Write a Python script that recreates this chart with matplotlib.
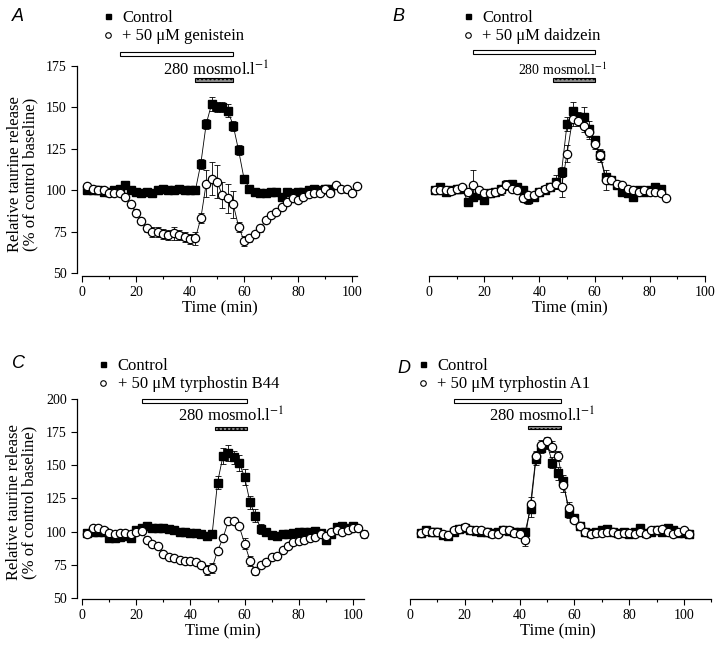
import numpy as np
import matplotlib.pyplot as plt
from matplotlib.patches import Rectangle
from matplotlib.lines import Line2D
from matplotlib.ticker import MultipleLocator

plt.rcParams['font.family'] = 'serif'
plt.rcParams['font.serif'] = ['Liberation Serif', 'DejaVu Serif']
plt.rcParams['mathtext.fontset'] = 'stix'

# ---- panel A: genistein ----
t_ctrl_a = np.arange(2, 93, 2)
ctrl_a = [100, 100, 100, 99, 99, 100, 101, 103, 100, 99, 98, 99, 98, 100, 101, 100, 100, 101, 100, 100,
          100, 116, 140, 152, 150, 150, 148, 139, 124, 107, 101, 99, 98, 98, 99, 99, 96, 99, 98, 99,
          99, 100, 101, 100, 101, 101]
ctrl_a_err = [1, 1, 1, 1, 1, 1, 1, 2, 1, 1, 1, 1, 1, 1, 1, 1, 1, 1, 1, 1,
              1, 3, 3, 4, 3, 3, 4, 3, 3, 2, 1, 1, 1, 1, 1, 1, 2, 1, 1, 1,
              1, 1, 1, 1, 1, 1]
t_drug_a = np.arange(2, 103, 2)
drug_a = [102.5, 101, 100, 100, 98, 98, 98, 96, 91.5, 86.5, 81.5, 77, 75, 74.5, 73.5, 73, 74, 73, 72, 70.5,
          71, 83, 104, 107, 105, 97, 95, 91.5, 78, 69.5, 71, 73.5, 77, 82, 85, 87, 90, 93, 95.5, 94,
          96, 97.5, 98, 98.5, 100.5, 98.5, 103, 101, 100.5, 98.5, 102.5]
drug_a_err = [1, 1, 1, 1, 1, 1, 1, 1, 2, 2, 2, 2, 3, 3, 3, 3, 4, 3, 3, 3,
              4, 3, 8, 10, 10, 8, 9, 8, 3, 3, 2, 2, 2, 1, 1, 1, 1, 1, 1, 1,
              1, 1, 1, 1, 1, 2, 1, 1, 2, 2, 1]

# ---- panel B: daidzein ----
t_ctrl_b = np.arange(2, 85, 2)
ctrl_b = [100, 102, 99, 100, 101, 101, 93, 96, 97, 94, 98, 99, 101, 103, 104, 102, 100, 94.5, 96, 99,
          100, 102, 105, 111, 140, 148, 144, 144, 137, 130, 121, 108, 106, 103, 99, 98, 96, 100, 99, 100,
          102, 101]
ctrl_b_err = [1, 1, 1, 1, 1, 2, 2, 2, 1, 2, 1, 1, 1, 3, 1, 1, 1, 3, 1, 1,
              1, 2, 4, 3, 4, 5, 3, 6, 5, 3, 4, 2, 2, 1, 1, 2, 1, 1, 1, 1,
              1, 1]
t_drug_b = np.arange(2, 87, 2)
drug_b = [100, 100, 100, 99.5, 101, 102, 99, 103, 100, 98, 98, 99, 100, 103, 101, 100, 95, 97, 97, 99,
          101, 102, 104, 102, 122, 143, 142, 139, 135, 128, 121, 106, 106, 104, 103, 101, 100, 99, 100, 99,
          99, 98, 95]
drug_b_err = [1, 1, 1, 1, 1, 2, 1, 9, 2, 1, 1, 1, 3, 2, 1, 1, 2, 1, 1, 1,
              1, 2, 3, 6, 5, 4, 3, 4, 4, 3, 3, 6, 2, 1, 1, 1, 1, 1, 1, 1,
              1, 1, 1]

# ---- panel C: tyrphostin B44 ----
t_ctrl_c = np.arange(2, 101, 2)
ctrl_c = [99, 100, 100, 100, 95, 95, 96, 97, 95, 101, 103, 104.5, 103, 103, 102.5, 102, 101, 100, 99.5, 99,
          99, 98, 97, 98, 137, 157, 159, 156, 152, 141, 122, 112, 102, 100, 97.5, 96.5, 98.5, 98, 99, 100,
          99.5, 100, 100.5, 99, 94, 98, 103.5, 104.5, 103, 104.5]
ctrl_c_err = [1, 1, 1, 1, 2, 2, 2, 2, 3, 2, 2, 1, 1, 1, 1, 1, 1, 1, 1, 1,
              1, 1, 1, 1, 5, 6, 6, 5, 6, 6, 5, 5, 4, 2, 1, 1, 1, 1, 1, 1,
              1, 1, 1, 1, 3, 2, 1, 1, 1, 1]
t_drug_c = np.arange(2, 105, 2)
drug_c = [98, 102.5, 103, 101.5, 99, 98.5, 99, 99, 98.5, 100, 100.5, 94, 91, 89, 83.5, 81, 80, 78.5, 78, 78,
          77, 75, 71, 72.5, 85.5, 95, 108, 108, 104, 91, 78, 70, 75, 77, 80.5, 82, 86.5, 89, 92.5, 93,
          94, 95, 96, 98, 97, 99.5, 101, 99.5, 101, 103, 103, 98]
drug_c_err = [1, 1, 1, 1, 1, 1, 1, 1, 1, 1, 1, 1, 1, 1, 1, 1, 1, 1, 1, 1,
              1, 2, 4, 4, 2, 2, 1, 1, 2, 4, 4, 3, 2, 1, 1, 1, 1, 1, 1, 1,
              1, 1, 1, 1, 1, 1, 1, 1, 1, 1, 1, 3]

# ---- panel D: tyrphostin A1 ----
t_ctrl_d = np.arange(4, 103, 2)
ctrl_d = [99, 101, 100, 100, 97.5, 97, 100, 102, 102.5, 101, 100.5, 100, 100, 99, 100, 101.5, 100.5, 100, 100, 100,
          117, 155, 163, 166, 152, 144, 138, 114, 110, 104, 100, 99, 100, 101, 102, 100, 99, 100, 98, 100,
          103, 99, 100, 101, 100, 103, 101, 99, 99, 98]
ctrl_d_err = [1, 1, 1, 1, 1, 1, 1, 1, 1, 1, 1, 1, 1, 1, 1, 1, 1, 1, 1, 2,
              6, 5, 4, 4, 4, 5, 5, 4, 3, 2, 1, 1, 1, 1, 1, 1, 1, 1, 1, 1,
              1, 1, 1, 1, 1, 1, 1, 1, 1, 1]
t_drug_d = np.arange(4, 103, 2)
drug_d = [99, 100.5, 100, 100, 98, 97.5, 101, 102, 103.5, 101.5, 101, 101, 100, 98.5, 98.5, 101, 101, 99, 98, 94,
          121, 157, 165, 168, 164, 157, 135, 118, 109, 104, 100, 98, 99, 99, 100, 100, 98, 99, 99, 98,
          100, 98, 101, 101, 102, 100, 98, 100, 101, 98]
drug_d_err = [1, 1, 1, 1, 1, 1, 1, 1, 1, 1, 1, 1, 1, 1, 1, 1, 1, 1, 1, 5,
              5, 4, 4, 3, 4, 4, 5, 4, 2, 1, 1, 1, 1, 1, 1, 1, 1, 1, 1, 1,
              1, 1, 1, 1, 1, 1, 1, 1, 1, 1]

drug_labels = ['+ 50 \u03bcM genistein', '+ 50 \u03bcM daidzein',
               '+ 50 \u03bcM tyrphostin B44', '+ 50 \u03bcM tyrphostin A1']
drug_periods = [(14, 56), (16, 60), (22, 61), (16, 55)]
hypo_periods = [(42, 56), (45, 60), (49, 61), (43, 55)]
hypo_label = '280 mosmol.l$^{-1}$'

W, H = 720, 648
fig = plt.figure(figsize=(7.2, 6.48), dpi=100)


def make_axes(rect, xlim, ylim, xb, yb, show_y):
    ax = fig.add_axes(rect)
    ax.set_xlim(*xlim)
    ax.set_ylim(*ylim)
    for s in ['top', 'right']:
        ax.spines[s].set_visible(False)
    ax.spines['bottom'].set_bounds(*xb)
    ax.xaxis.set_major_locator(MultipleLocator(20))
    ax.xaxis.set_minor_locator(MultipleLocator(10))
    ax.tick_params(axis='both', which='major', direction='out', length=4, width=0.8, labelsize=10, pad=3)
    ax.tick_params(axis='x', which='minor', direction='out', length=2, width=0.8)
    if show_y:
        ax.spines['left'].set_bounds(*yb)
        ax.yaxis.set_major_locator(MultipleLocator(25))
        ax.set_ylabel('Relative taurine release\n(% of control baseline)', fontsize=12, linespacing=0.9)
        ax.yaxis.set_label_coords(-0.135, 0.48)
    else:
        ax.spines['left'].set_visible(False)
        ax.set_yticks([])
    ax.set_xlabel('Time (min)', fontsize=12, labelpad=1)
    for s in ax.spines.values():
        s.set_linewidth(0.9)
    return ax


def draw(ax, t, v, err, filled):
    ax.errorbar(t, v, yerr=err, fmt='-', color='k', lw=0.6, elinewidth=0.6,
                capsize=2.5, capthick=0.6, zorder=2)
    if filled:
        ax.plot(t, v, ls='none', marker='s', ms=5.5, mfc='k', mec='k', zorder=3)
    else:
        ax.plot(t, v, ls='none', marker='o', ms=6, mfc='w', mec='k', mew=0.9, zorder=4)


def key(ax, label, x_px, y_px):
    handles = [Line2D([], [], ls='none', marker='s', ms=3.6, mfc='k', mec='k'),
               Line2D([], [], ls='none', marker='o', ms=4.0, mfc='w', mec='k', mew=0.8)]
    ax.legend(handles, ['Control', label], loc='upper left',
              bbox_to_anchor=(x_px / W, 1 - y_px / H), bbox_transform=fig.transFigure,
              frameon=False, borderpad=0, borderaxespad=0, handlelength=1.0,
              handletextpad=0.35, labelspacing=0.15, fontsize=12)


def bars(ax, drug, hypo, y_open, y_hypo, y_text, text_x, fs):
    tr = ax.get_xaxis_transform()
    ax.add_patch(Rectangle((drug[0], y_open), drug[1] - drug[0], 0.019, transform=tr,
                           fc='w', ec='k', lw=0.8, clip_on=False))
    ax.add_patch(Rectangle((hypo[0], y_hypo), hypo[1] - hypo[0], 0.017, transform=tr,
                           fc='0.55', ec='k', lw=0.8, hatch='....', clip_on=False))
    ax.text(text_x, y_text, hypo_label, transform=tr, ha='center', va='center', fontsize=fs)


ax_a = make_axes([0.1064, 0.5736, 0.3975, 0.3272], (-2, 104), (48, 176), (0, 102), (50, 175), True)
draw(ax_a, t_ctrl_a, ctrl_a, ctrl_a_err, True)
draw(ax_a, t_drug_a, drug_a, drug_a_err, False)
key(ax_a, drug_labels[0], 100, 10)
bars(ax_a, drug_periods[0], hypo_periods[0], 1.039, 0.9165, 0.973, 49.6, 12)

ax_b = make_axes([0.5882, 0.5736, 0.4064, 0.3272], (-2, 104), (48, 176), (0, 100), None, False)
draw(ax_b, t_ctrl_b, ctrl_b, ctrl_b_err, True)
draw(ax_b, t_drug_b, drug_b, drug_b_err, False)
key(ax_b, drug_labels[1], 460, 10)
bars(ax_b, drug_periods[1], hypo_periods[1], 1.049, 0.9165, 0.973, 48.5, 10)

ax_c = make_axes([0.1064, 0.0752, 0.4065, 0.3111], (-2, 106), (49, 201), (0, 104), (50, 200), True)
draw(ax_c, t_ctrl_c, ctrl_c, ctrl_c_err, True)
draw(ax_c, t_drug_c, drug_c, drug_c_err, False)
key(ax_c, drug_labels[2], 95, 358)
bars(ax_c, drug_periods[2], hypo_periods[2], 0.974, 0.84, 0.906, 55, 12)

ax_d = make_axes([0.5618, 0.0752, 0.4262, 0.3111], (-2, 110), (49, 201), (0, 110), None, False)
draw(ax_d, t_ctrl_d, ctrl_d, ctrl_d_err, True)
draw(ax_d, t_drug_d, drug_d, drug_d_err, False)
key(ax_d, drug_labels[3], 415, 358)
bars(ax_d, drug_periods[3], hypo_periods[3], 0.975, 0.843, 0.906, 48.4, 12)

for letter, x_px, y_px in [('A', 12, 8), ('B', 392, 8), ('C', 12, 355), ('D', 397, 360)]:
    fig.text(x_px / W, 1 - y_px / H, letter, family='Liberation Sans', style='italic',
             fontsize=13, ha='left', va='top')

fig.savefig('out.png', dpi=100)
